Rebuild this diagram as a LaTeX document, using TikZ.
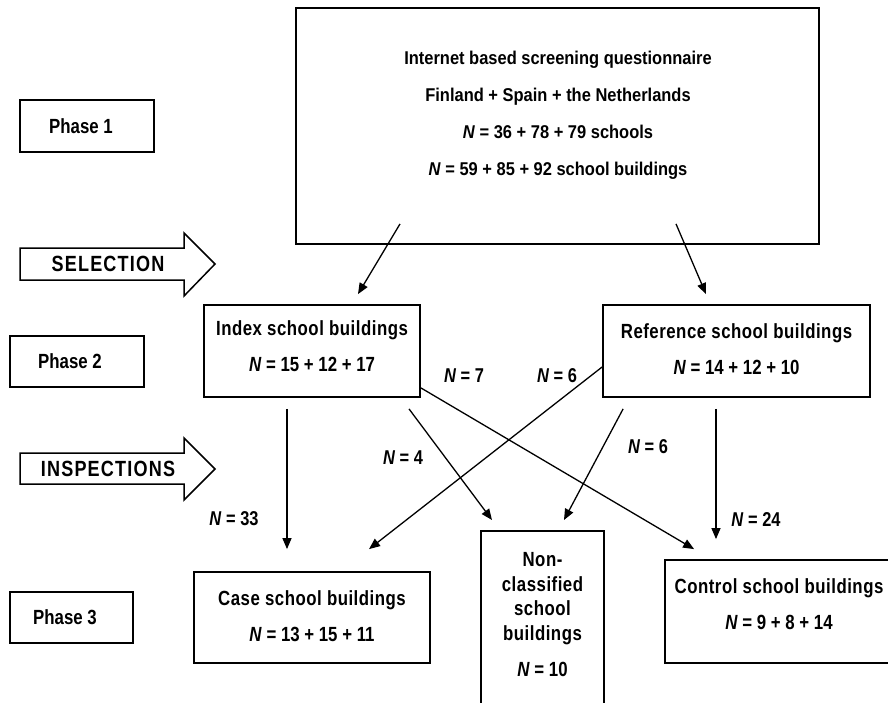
\documentclass[tikz,border=0pt]{standalone}
\usepackage{fontspec}
\setmainfont{Liberation Sans}[FakeStretch=0.82]
\newfontfamily\topfont{Liberation Sans}[FakeStretch=0.89]
\newfontfamily\spacedfont{Liberation Sans}[FakeStretch=0.82, LetterSpace=2.5]
\newfontfamily\widefont{Liberation Sans}[FakeStretch=0.82, LetterSpace=5.5]
\usetikzlibrary{arrows.meta}
\tikzset{
  box/.style={draw, line width=1.8pt, rectangle, inner sep=0pt},
  phasebox/.style={draw, line width=1.5pt, rectangle, inner sep=0pt, font=\bfseries\fontsize{20.5}{24}\selectfont},
  lbl/.style={font=\bfseries\fontsize{20}{24}\selectfont, inner sep=0pt},
  boxtext/.style={align=center, inner sep=0pt, font=\bfseries\fontsize{20.5}{24.5}\selectfont},
  toptxt/.style={align=center, inner sep=0pt, font=\topfont\bfseries\fontsize{18.5}{22}\selectfont},
  blocktext/.style={inner sep=0pt, font=\widefont\bfseries\fontsize{22}{26}\selectfont},
  arr/.style={line width=1.3pt, -{Triangle[length=11pt,width=9pt]}},
  blockarrow/.style={draw, line width=1.5pt, fill=white},
}
\newcommand{\NN}{\textit{N}}
\newcommand{\SW}[1]{{\spacedfont #1}}
\begin{document}
\begin{tikzpicture}[x=1pt,y=-1pt]
\useasboundingbox[fill=white] (0,0) rectangle (888,702);

% phase boxes
\node[phasebox, minimum width=134pt, minimum height=52pt] (p1) at (87,126) {Phase 1\rule{12pt}{0pt}};
\node[phasebox, minimum width=134pt, minimum height=51pt] (p2) at (77,361.5) {Phase 2\rule{14pt}{0pt}};
\node[phasebox, minimum width=123pt, minimum height=51pt] (p3) at (71.5,617.5) {Phase 3\rule{13pt}{0pt}};

% block arrows
\draw[blockarrow] (20,248) -- (184,248) -- (184,233) -- (215,264) -- (184,296) -- (184,280) -- (20,280) -- cycle;
\node[blocktext] (sel) at (108,264) {SELECTION};
\draw[blockarrow] (20,453) -- (184,453) -- (184,438) -- (215,469) -- (184,500) -- (184,484) -- (20,484) -- cycle;
\node[blocktext] (insp) at (108,469) {INSPECTIONS};

% main boxes
\node[box, minimum width=523pt, minimum height=236pt] (top) at (557.5,126) {};
\node[toptxt] (toptext) at (558,115) {Internet based screening questionnaire\\[15pt]
Finland + Spain + the Netherlands\\[15pt]
\NN{} = 36 + 78 + 79 schools\\[15pt]
\NN{} = 59 + 85 + 92 school buildings};

\node[box, minimum width=216pt, minimum height=92pt] (idx) at (312,351) {};
\node[boxtext] (idxtext) at (312,346) {\SW{Index school buildings}\\[12pt]\NN{} = 15 + 12 + 17};

\node[box, minimum width=267pt, minimum height=92pt] (ref) at (736.5,351) {};
\node[boxtext] (reftext) at (736.5,349) {\SW{Reference school buildings}\\[12pt]\NN{} = 14 + 12 + 10};

\node[box, minimum width=236pt, minimum height=91pt] (case) at (312,617.5) {};
\node[boxtext] (casetext) at (312,616) {\SW{Case school buildings}\\[12pt]\NN{} = 13 + 15 + 11};

\node[box, minimum width=123pt, minimum height=200pt, anchor=north] (non) at (542.5,530) {};
\node[boxtext] (nontext) at (542.5,615) {\SW{Non-}\\\SW{classified}\\\SW{school}\\\SW{buildings}\\[12pt]\NN{} = 10};

\node[box, minimum width=230pt, minimum height=103pt] (ctrl) at (780,611.5) {};
\node[boxtext] (ctrltext) at (779,604) {\SW{Control school buildings}\\[12pt]\NN{} = 9 + 8 + 14};

% connectors
\draw[arr] ([xshift=-157.5pt,yshift=21pt]top.south) -- ([xshift=46pt,yshift=10pt]idx.north);
\draw[arr] ([xshift=118.5pt,yshift=21pt]top.south) -- ([xshift=-30.5pt,yshift=10pt]ref.north);

\draw[arr] ([xshift=-25pt,yshift=-11pt]idx.south) -- ([xshift=-25pt,yshift=22pt]case.north);
\draw[arr] ([xshift=97pt,yshift=-11pt]idx.south) -- ([xshift=-50.5pt,yshift=10pt]non.north);
\draw[arr] ([yshift=10pt]idx.south east) -- ([xshift=30pt,yshift=10pt]ctrl.north west);

\draw[arr] ([yshift=-16pt]ref.west) -- ([xshift=57pt,yshift=22pt]case.north);
\draw[arr] ([xshift=21pt,yshift=-11pt]ref.south west) -- ([xshift=21.5pt,yshift=10pt]non.north);
\draw[arr] ([xshift=-20.5pt,yshift=-11pt]ref.south) -- ([xshift=-64pt,yshift=20pt]ctrl.north);

% labels
\node[lbl] (l33) at (234,519) {\NN{} = 33};
\node[lbl] (l4) at (403,458) {\NN{} = 4};
\node[lbl] (l7) at (464,376) {\NN{} = 7};
\node[lbl] (l6a) at (557,376) {\NN{} = 6};
\node[lbl] (l6b) at (648,447) {\NN{} = 6};
\node[lbl] (l24) at (756,520) {\NN{} = 24};
\end{tikzpicture}
\end{document}
